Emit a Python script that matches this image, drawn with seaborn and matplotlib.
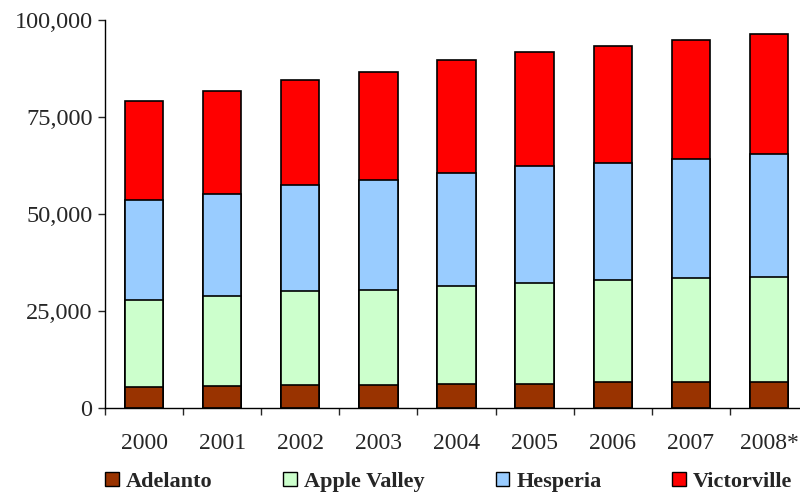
import pandas as pd
import matplotlib.pyplot as plt
import seaborn as sns
from matplotlib.patches import Patch
from matplotlib.ticker import FuncFormatter, FixedLocator

# Valores (população por cidade)
anos = ['2000', '2001', '2002', '2003', '2004', '2005', '2006', '2007', '2008*']
adelanto = [5500, 5600, 6000, 6000, 6300, 6300, 6700, 6700, 6700]
apple_valley = [22300, 23300, 24100, 24400, 25200, 25900, 26300, 26700, 27100]
hesperia = [25900, 26300, 27400, 28300, 29000, 30200, 30100, 30900, 31600]
victorville = [25300, 26500, 27000, 27900, 29100, 29400, 30300, 30500, 31000]

cidades = ['Adelanto', 'Apple Valley', 'Hesperia', 'Victorville']
cores = ['#993300', '#CCFFCC', '#99CCFF', '#FF0000']

df = pd.DataFrame({'Ano': anos, 'Adelanto': adelanto, 'Apple Valley': apple_valley,
                   'Hesperia': hesperia, 'Victorville': victorville})
df_acum = df[cidades].cumsum(axis=1)
df_acum['Ano'] = anos

sns.set_style('white')
plt.rcParams['font.family'] = ['Liberation Serif', 'DejaVu Serif']

fig = plt.figure(figsize=(8, 4.92), dpi=100)
ax = fig.add_axes([105 / 800, 84 / 492, 703 / 800, 388 / 492])

# Barras empilhadas: desenha o total primeiro e as camadas de baixo por cima
for cidade, cor in reversed(list(zip(cidades, cores))):
    sns.barplot(x='Ano', y=cidade, data=df_acum, color=cor, saturation=1, edgecolor='black',
                linewidth=1.2, width=0.49, ax=ax, errorbar=None)

ax.set_xlim(-0.5, 8.5)
ax.set_ylim(0, 100000)
ax.set_yticks([0, 25000, 50000, 75000, 100000])
ax.yaxis.set_major_formatter(FuncFormatter(lambda v, p: f'{int(v):,}'))
ax.set_xlabel('')
ax.set_ylabel('')

for s in ['top', 'right']:
    ax.spines[s].set_visible(False)
for s in ['left', 'bottom']:
    ax.spines[s].set_color('black')
    ax.spines[s].set_linewidth(1)

ax.tick_params(axis='y', which='major', direction='out', length=5, width=1,
               left=True, labelsize=17.5, pad=4)
ax.tick_params(axis='x', which='major', length=0, labelsize=17, pad=18)
ax.xaxis.set_minor_locator(FixedLocator([i - 0.5 for i in range(10)]))
ax.tick_params(axis='x', which='minor', direction='out', length=5, width=1, bottom=True)

handles = [Patch(facecolor=c, edgecolor='black', linewidth=1, label=n) for n, c in zip(cidades, cores)]
fig.legend(handles=handles, loc='center', bbox_to_anchor=(0.561, 0.02), ncol=4, frameon=False,
           prop={'weight': 'bold', 'size': 16}, handlelength=0.6, handleheight=0.6,
           handletextpad=0.32, columnspacing=3.2, borderpad=0)

plt.savefig('out.png', dpi=100)
